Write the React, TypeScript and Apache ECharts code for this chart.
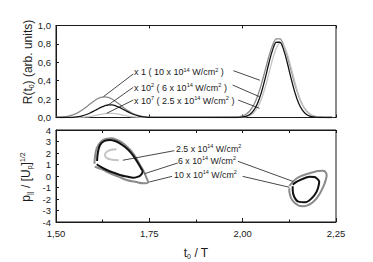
import React, { useEffect, useRef } from "react";
import * as echarts from "echarts";

// ---------- top panel: R(t0) ----------
const tLeft = [1.50, 1.51, 1.52, 1.53, 1.54, 1.55, 1.56, 1.57, 1.58, 1.59, 1.60, 1.61, 1.62, 1.63, 1.64, 1.65, 1.66, 1.67, 1.68, 1.69, 1.70, 1.71, 1.72, 1.73, 1.74, 1.75, 1.76];
const r10Left = [0.001, 0.004, 0.007, 0.013, 0.023, 0.037, 0.056, 0.081, 0.111, 0.143, 0.174, 0.201, 0.219, 0.225, 0.219, 0.201, 0.174, 0.143, 0.111, 0.081, 0.056, 0.037, 0.023, 0.013, 0.007, 0.004, 0.002];
const r6Left = [0, 0, 0, 0.001, 0.002, 0.005, 0.010, 0.018, 0.030, 0.046, 0.066, 0.088, 0.110, 0.127, 0.137, 0.137, 0.127, 0.110, 0.088, 0.066, 0.046, 0.030, 0.018, 0.010, 0.005, 0.002, 0.001];
const r25Left = [0, 0, 0, 0, 0, 0.001, 0.002, 0.003, 0.006, 0.011, 0.018, 0.026, 0.034, 0.041, 0.045, 0.045, 0.041, 0.034, 0.026, 0.018, 0.011, 0.006, 0.003, 0.002, 0.001, 0, 0];
const tRight = [1.98, 1.99, 2.00, 2.01, 2.02, 2.03, 2.04, 2.05, 2.06, 2.07, 2.08, 2.09, 2.10, 2.11, 2.12, 2.13, 2.14, 2.15, 2.16, 2.17, 2.18, 2.19, 2.20, 2.21, 2.22, 2.23, 2.24];
const r10Right = [0.003, 0.007, 0.017, 0.038, 0.076, 0.139, 0.234, 0.360, 0.509, 0.660, 0.785, 0.855, 0.855, 0.785, 0.660, 0.509, 0.360, 0.234, 0.139, 0.076, 0.038, 0.017, 0.007, 0.003, 0.001, 0, 0];
const r6Right = [0, 0.002, 0.006, 0.015, 0.036, 0.079, 0.154, 0.270, 0.420, 0.587, 0.732, 0.818, 0.818, 0.732, 0.587, 0.420, 0.270, 0.154, 0.079, 0.036, 0.015, 0.006, 0.002, 0, 0, 0, 0];
const r25Right = [0, 0.001, 0.004, 0.010, 0.024, 0.055, 0.110, 0.198, 0.323, 0.475, 0.630, 0.752, 0.808, 0.783, 0.684, 0.539, 0.382, 0.244, 0.141, 0.073, 0.034, 0.014, 0.005, 0.002, 0.001, 0, 0];

// ---------- bottom panel: p|| / sqrt(Up) vs t0 ----------
const loop6Left: [number, number][] = [[1.610, 1.30], [1.612, 2.00], [1.618, 2.70], [1.630, 3.05], [1.645, 3.13], [1.660, 3.02], [1.671, 2.84], [1.685, 2.52], [1.698, 2.12], [1.710, 1.62], [1.720, 1.10], [1.728, 0.65], [1.732, 0.37], [1.726, 0.05], [1.716, -0.10], [1.707, -0.15], [1.690, -0.05], [1.671, 0.09], [1.655, 0.28], [1.636, 0.52], [1.620, 0.80], [1.609, 1.02]];
const loop10Left: [number, number][] = [[1.603, 1.06], [1.604, 1.54], [1.609, 2.40], [1.622, 3.04], [1.635, 3.25], [1.649, 3.28], [1.662, 3.15], [1.676, 2.93], [1.690, 2.55], [1.703, 2.12], [1.715, 1.55], [1.725, 0.96], [1.735, 0.40], [1.743, -0.20], [1.747, -0.55], [1.734, -0.64], [1.712, -0.50], [1.689, -0.35], [1.667, -0.05], [1.645, 0.23], [1.625, 0.55], [1.604, 0.81]];
const loop25Left: [number, number][] = [[1.662, 2.32], [1.648, 2.28], [1.636, 2.10], [1.631, 1.82], [1.636, 1.56], [1.650, 1.42], [1.668, 1.38]];
const loop6Right: [number, number][] = [[2.134, -0.75], [2.142, -0.55], [2.154, -0.35], [2.167, -0.17], [2.180, -0.06], [2.192, -0.08], [2.200, -0.25], [2.205, -0.50], [2.203, -0.90], [2.198, -1.36], [2.185, -1.94], [2.167, -2.29], [2.149, -2.23], [2.138, -1.80], [2.134, -1.22], [2.134, -0.90]];
const loop10Right: [number, number][] = [[2.125, -0.87], [2.133, -0.55], [2.145, -0.20], [2.158, 0.02], [2.172, 0.17], [2.188, 0.32], [2.203, 0.43], [2.215, 0.45], [2.221, 0.37], [2.225, 0.09], [2.222, -0.40], [2.216, -0.93], [2.208, -1.45], [2.198, -1.94], [2.187, -2.30], [2.176, -2.52], [2.165, -2.62], [2.154, -2.61], [2.144, -2.45], [2.136, -2.23], [2.130, -1.95], [2.127, -1.65], [2.125, -1.30], [2.125, -1.07]];

// ---------- tick labels ----------
const xTickLabels = ["1,50", "1,75", "2,00", "2,25"];
const yTopTickLabels = ["0,0", "0,2", "0,4", "0,6", "0,8", "1,0"];
const yBottomTickLabels = ["-4", "-3", "-2", "-1", "0", "1", "2", "3", "4"];

// ---------- annotations (data coordinates) ----------
const topArrows: [number, number, number, number][] = [
  [1.707, 0.473, 1.627, 0.226],
  [1.707, 0.328, 1.636, 0.125],
  [1.707, 0.190, 1.636, 0.046],
  [1.975, 0.509, 2.046, 0.405],
  [1.973, 0.353, 2.045, 0.226],
  [1.988, 0.190, 2.045, 0.100],
];
const bottomArrows: [number, number, number, number][] = [
  [1.817, 2.20, 1.679, 1.37],
  [1.826, 1.13, 1.737, 0.20],
  [1.987, 1.28, 2.134, -0.46],
  [1.811, -0.03, 1.750, -0.52],
  [2.000, -0.03, 2.125, -0.98],
];

const FONT = "'Liberation Sans', Arial, sans-serif";
const INK = "#1a1a1a";
const GRAY = "#8a8a8a";
const LIGHT = "#c4c4c4";
const BLACK = "#111111";

const pair = (ts: number[], vs: number[]) => ts.map((t, i) => [t, vs[i]]);

const X0 = 56, XW = 280;
const TOP0 = 25.5, TOPH = 92;
const BOT0 = 130, BOTH = 92;

function arrowLines(list: [number, number, number, number][]) {
  return {
    silent: true,
    symbol: ["none", "arrow"],
    symbolSize: [0, 5],
    label: { show: false },
    lineStyle: { color: INK, width: 0.8, type: "solid" },
    emphasis: { disabled: true },
    data: list.map(([a, b, c, d]) => [{ coord: [a, b] }, { coord: [c, d] }]),
  };
}

function annText(x: number, y: number, text: string, size: number) {
  return {
    type: "text",
    x,
    y,
    silent: true,
    style: {
      text,
      rich: {
        sup: { fontSize: size * 0.62, verticalAlign: "top", fontFamily: FONT, fill: INK, lineHeight: 11 },
      },
      fontSize: size,
      lineHeight: 11,
      fontFamily: FONT,
      fill: INK,
      align: "left",
      verticalAlign: "middle",
    },
  };
}

export default function App() {
  const ref = useRef<HTMLDivElement>(null);

  useEffect(() => {
    if (!ref.current) return;
    const chart = echarts.init(ref.current, undefined, { renderer: "svg" });

    const xBase = {
      type: "value",
      min: 1.5,
      max: 2.25,
      interval: 0.25,
      splitLine: { show: false },
      axisLine: { show: true, onZero: false, lineStyle: { color: INK, width: 1 } },
    };

    const option: any = {
      animation: false,
      backgroundColor: "#ffffff",
      textStyle: { fontFamily: FONT },
      grid: [
        { left: X0, top: TOP0, width: XW, height: TOPH, show: true, borderColor: INK, borderWidth: 1 },
        { left: X0, top: BOT0, width: XW, height: BOTH, show: true, borderColor: INK, borderWidth: 1 },
      ],
      xAxis: [
        { ...xBase, gridIndex: 0, position: "bottom", axisLabel: { show: false }, axisTick: { show: true, inside: true, length: 3, lineStyle: { color: INK } } },
        { ...xBase, gridIndex: 0, position: "top", axisLabel: { show: false }, axisTick: { show: true, inside: true, length: 3, lineStyle: { color: INK } } },
        {
          ...xBase,
          gridIndex: 1,
          position: "bottom",
          axisTick: { show: true, inside: true, length: 4, lineStyle: { color: INK } },
          minorTick: { show: true, splitNumber: 2, length: 2.5, lineStyle: { color: INK } },
          axisLabel: {
            show: true,
            margin: 6,
            fontSize: 9.5,
            color: INK,
            fontFamily: FONT,
            formatter: (v: number) => xTickLabels[Math.round((v - 1.5) / 0.25)] ?? "",
          },
          name: "t{sub|0} / T",
          nameLocation: "middle",
          nameGap: 24,
          nameTextStyle: {
            fontSize: 12,
            color: INK,
            fontFamily: FONT,
            lineHeight: 14,
            rich: { sub: { fontSize: 7, verticalAlign: "bottom", lineHeight: 14, fontFamily: FONT, color: INK } },
          },
        },
        {
          ...xBase,
          gridIndex: 1,
          position: "top",
          axisLabel: { show: false },
          axisTick: { show: true, inside: true, length: 3, lineStyle: { color: INK } },
          minorTick: { show: true, splitNumber: 2, length: 3, lineStyle: { color: INK } },
        },
      ],
      yAxis: [
        {
          type: "value",
          gridIndex: 0,
          min: 0,
          max: 1,
          interval: 0.2,
          splitLine: { show: false },
          axisLine: { show: true, onZero: false, lineStyle: { color: INK } },
          axisTick: { show: true, inside: true, length: 3, lineStyle: { color: INK } },
          axisLabel: {
            margin: 5,
            fontSize: 9.5,
            color: INK,
            fontFamily: FONT,
            formatter: (v: number) => yTopTickLabels[Math.round(v / 0.2)] ?? "",
          },
        },
        {
          type: "value",
          gridIndex: 1,
          min: -4,
          max: 4,
          interval: 1,
          splitLine: { show: false },
          axisLine: { show: true, onZero: false, lineStyle: { color: INK } },
          axisTick: { show: true, inside: true, length: 3, lineStyle: { color: INK } },
          axisLabel: {
            margin: 5,
            fontSize: 9.5,
            color: INK,
            fontFamily: FONT,
            formatter: (v: number) => yBottomTickLabels[Math.round(v + 4)] ?? "",
          },
        },
      ],
      series: [
        // top panel
        { type: "line", xAxisIndex: 0, yAxisIndex: 0, data: pair(tLeft, r10Left).concat(pair(tRight, r10Right)), smooth: 0.3, showSymbol: false, lineStyle: { color: GRAY, width: 1.3 }, silent: true, markLine: arrowLines(topArrows) },
        { type: "line", xAxisIndex: 0, yAxisIndex: 0, data: pair(tLeft, r25Left).concat(pair(tRight, r25Right)), smooth: 0.3, showSymbol: false, lineStyle: { color: LIGHT, width: 1.3 }, silent: true },
        { type: "line", xAxisIndex: 0, yAxisIndex: 0, data: pair(tLeft, r6Left).concat(pair(tRight, r6Right)), smooth: 0.3, showSymbol: false, lineStyle: { color: BLACK, width: 1.3 }, silent: true },
        // bottom panel
        { type: "line", xAxisIndex: 2, yAxisIndex: 1, data: loop10Left, smooth: 0.4, showSymbol: false, lineStyle: { color: GRAY, width: 2 }, silent: true, markLine: arrowLines(bottomArrows) },
        { type: "line", xAxisIndex: 2, yAxisIndex: 1, data: loop10Right, smooth: 0.4, showSymbol: false, lineStyle: { color: GRAY, width: 2 }, silent: true },
        { type: "line", xAxisIndex: 2, yAxisIndex: 1, data: loop6Left, smooth: 0.4, showSymbol: false, lineStyle: { color: BLACK, width: 2 }, silent: true },
        { type: "line", xAxisIndex: 2, yAxisIndex: 1, data: loop6Right, smooth: 0.4, showSymbol: false, lineStyle: { color: BLACK, width: 2 }, silent: true },
        { type: "line", xAxisIndex: 2, yAxisIndex: 1, data: loop25Left, smooth: 0.4, showSymbol: false, lineStyle: { color: LIGHT, width: 2 }, silent: true },
      ],
      graphic: [
        annText(134, 72, "x 1 ( 10 x 10{sup|14} W/cm{sup|2} )", 9),
        annText(134, 87.5, "x 10{sup|2} ( 6 x 10{sup|14} W/cm{sup|2} )", 9),
        annText(134, 100.5, "x 10{sup|7} ( 2.5 x 10{sup|14} W/cm{sup|2} )", 9),
        annText(176, 148.5, "2.5 x 10{sup|14} W/cm{sup|2}", 8.8),
        annText(178, 161, "6 x 10{sup|14} W/cm{sup|2}", 8.8),
        annText(174, 174.5, "10 x 10{sup|14} W/cm{sup|2}", 8.8),
        {
          type: "text",
          x: 28,
          y: 62,
          rotation: Math.PI / 2,
          silent: true,
          style: {
            text: "R(t{sub|0}) (arb. units)",
            fontSize: 12,
            fontFamily: FONT,
            fill: INK,
            align: "center",
            verticalAlign: "middle",
            lineHeight: 14,
            rich: { sub: { fontSize: 7, verticalAlign: "bottom", lineHeight: 14, fontFamily: FONT, fill: INK } },
          },
        },
        {
          type: "text",
          x: 26,
          y: 177,
          rotation: Math.PI / 2,
          silent: true,
          style: {
            text: "p{sub|||} / [U{sub|p}]{sup|1/2}",
            fontSize: 12,
            fontFamily: FONT,
            fill: INK,
            align: "center",
            verticalAlign: "middle",
            lineHeight: 14,
            rich: {
              sub: { fontSize: 7, verticalAlign: "bottom", lineHeight: 14, fontFamily: FONT, fill: INK },
              sup: { fontSize: 7, verticalAlign: "top", lineHeight: 14, fontFamily: FONT, fill: INK },
            },
          },
        },
      ],
    };

    chart.setOption(option);
    return () => chart.dispose();
  }, []);

  return (
    <div
      ref={ref}
      style={{ position: "absolute", left: 0, top: 0, width: 373, height: 262, background: "#fff" }}
    />
  );
}
